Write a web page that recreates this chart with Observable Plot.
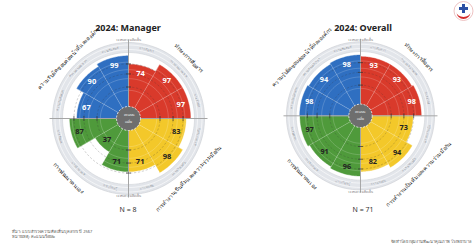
<!DOCTYPE html>
<html><head><meta charset="utf-8">
<script src="https://cdn.jsdelivr.net/npm/d3@7"></script>
<script src="https://cdn.jsdelivr.net/npm/@observablehq/plot@0.6"></script>
<style>
body{margin:0;background:#fff;font-family:"Noto Sans","DejaVu Sans",sans-serif;}
#page{position:relative;width:475px;height:247px;overflow:hidden;background:#fff;}
.chart{position:absolute;top:13px;}
.title{position:absolute;top:22px;width:160px;text-align:center;font-weight:bold;font-size:9px;color:#222;line-height:11px;}
.n{position:absolute;top:205px;width:60px;text-align:center;font-size:7px;color:#333;}
.foot{position:absolute;font-size:4px;color:#555;line-height:5px;white-space:nowrap;}
</style></head><body>
<div id="page"></div>
<script>
// ---- data ----
const items = ["R1","R2","R3","Y1","Y2","Y3","G1","G2","G3","B1","B2","B3"]; // clockwise from 12 o'clock
const groups = ["red","red","red","yellow","yellow","yellow","green","green","green","blue","blue","blue"];
const subLabels = ["การสื่อสาร","การประสานงาน","การรับฟัง","ความร่วมมือ","การช่วยเหลือ","การแบ่งปัน","การเรียนรู้","การฝึกอบรม","การพัฒนา","ความรับผิดชอบ","ความตรงต่อเวลา","ความซื่อสัตย์"];
const managerValues = [74, 97, 97, 83, 98, 71, 71, 37, 87, 67, 90, 99];
const overallValues = [93, 93, 98, 73, 94, 82, 96, 91, 97, 98, 94, 98];
const quadrantNames = ["ทักษะการสื่อสาร","การทำงานเป็นทีมและความร่วมมือกัน","การพัฒนาตนเอง","ความรับผิดชอบต่อหน้าที่และองค์กร"];
const charts = [
  {title:"2024: Manager", n:"N = 8", values: managerValues, cx:128},
  {title:"2024: Overall", n:"N = 71", values: overallValues, cx:363}
];
const palette = {red:"#d93a2b", yellow:"#f3c82a", green:"#4f9a3b", blue:"#2f6fc1"};
const labelInk = {red:"#fff", yellow:"#222", green:"#222", blue:"#fff"};

// ---- geometry helpers ----
const K = 63; // px per unit (outer data radius)
const W = 236, H = 210;
const rs = d3.scaleSqrt().domain([0,100]).range([0,1]);
const band = d3.scaleBand().domain(items).range([0,360]);
const rad = d => d*Math.PI/180;
const pol = (r, th) => ({x: r*Math.sin(rad(th)), y: r*Math.cos(rad(th))});
function circlePts(r, id){ return d3.range(0, 361, 3).map(t => ({...pol(r,t), id})); }
function tangentRot(th){ th = ((th%360)+360)%360; return (th>90 && th<270) ? th-180 : th; }

const page = document.getElementById("page");

for (const c of charts) {
  const wedges = [];
  items.forEach((it, i) => {
    const t0 = band(it), t1 = t0 + band.bandwidth(), r = rs(c.values[i]);
    wedges.push({x:0, y:0, id:it, fill: palette[groups[i]]});
    for (let t = t0; t <= t1 + 1e-9; t += 1) wedges.push({...pol(r,t), id:it, fill: palette[groups[i]]});
  });
  const labels = items.map((it, i) => {
    const th = band(it) + band.bandwidth()/2;
    return {...pol(rs(c.values[i]) - 8/K, th), text: String(c.values[i]), ink: labelInk[groups[i]]};
  });
  const subs = items.map((it, i) => {
    const th = band(it) + band.bandwidth()/2;
    return {...pol(71/K, th), text: subLabels[i], rot: tangentRot(th)};
  });
  const quads = quadrantNames.map((q, i) => {
    const th = 45 + 90*i;
    return {...pol(85/K, th), text: q, rot: tangentRot(th)};
  });
  const gridWhite = [20,40,60,80].flatMap(v => circlePts(rs(v), "g"+v));
  const gridDash = [25,50,75].flatMap(v => circlePts(rs(v), "d"+v));
  const spokes = items.map(it => ({a: pol(0, band(it)), b: pol(1, band(it))}));
  const axes = [{a:pol(79/K,0), b:pol(79/K,180)}, {a:pol(79/K,90), b:pol(79/K,270)}];
  const ticks = [25,50,75].flatMap(v => [0,90,180,270].map(th => {
    const p = pol(rs(v), th), q = pol(2.5/K, th+90);
    return {a:{x:p.x-q.x, y:p.y-q.y}, b:{x:p.x+q.x, y:p.y+q.y}};
  }));
  const axisNotes = [{...pol(78/K,0), text:"ระดับความคิดเห็น"}, {...pol(78/K,180), text:"ระดับความคิดเห็น"}];

  const svg = Plot.plot({
    width: W, height: H, margin: 0,
    x: {domain: [-W/2/K, W/2/K], axis: null},
    y: {domain: [-H/2/K, H/2/K], axis: null},
    color: {type: "identity"},
    style: {fontFamily: "'Noto Sans', 'DejaVu Sans', sans-serif", background: "transparent"},
    marks: [
      Plot.line(circlePts(71/K, "ring"), {x:"x", y:"y", z:"id", stroke:"#e2e5ea", strokeWidth:10}),
      Plot.line(circlePts(76/K, "o1"), {x:"x", y:"y", z:"id", stroke:"#c9ccd1", strokeWidth:0.6}),
      Plot.line(circlePts(66/K, "o2"), {x:"x", y:"y", z:"id", stroke:"#cfd2d6", strokeWidth:0.6}),
      Plot.line(circlePts(69/K, "o3"), {x:"x", y:"y", z:"id", stroke:"#ffffff", strokeWidth:0.6}),
      Plot.line(circlePts(73.5/K, "o4"), {x:"x", y:"y", z:"id", stroke:"#ffffff", strokeWidth:0.6}),
      Plot.line(wedges, {x:"x", y:"y", z:"id", fill:"fill", stroke:"fill", strokeWidth:0.4}),
      Plot.line(gridWhite, {x:"x", y:"y", z:"id", stroke:"#fff", strokeOpacity:0.3, strokeWidth:0.6}),
      Plot.link(spokes, {x1:d=>d.a.x, y1:d=>d.a.y, x2:d=>d.b.x, y2:d=>d.b.y, stroke:"#fff", strokeOpacity:0.35, strokeWidth:0.6}),
      Plot.line(gridDash, {x:"x", y:"y", z:"id", stroke:"#333", strokeOpacity:0.45, strokeWidth:0.5, strokeDasharray:"1.5,2.5"}),
      Plot.link(axes, {x1:d=>d.a.x, y1:d=>d.a.y, x2:d=>d.b.x, y2:d=>d.b.y, stroke:"#a5a5a5", strokeWidth:1}),
      Plot.link(ticks, {x1:d=>d.a.x, y1:d=>d.a.y, x2:d=>d.b.x, y2:d=>d.b.y, stroke:"#333", strokeWidth:0.7}),
      Plot.dot([{x:0,y:0}], {x:"x", y:"y", r:12, fill:"#6e6e6e", stroke:"#fff", strokeWidth:0.8, strokeDasharray:"2,1.5"}),
      Plot.text(["คะแนน","เฉลี่ย"], {x:0, y:(d,i)=> (i? -3.5 : 3.5)/K, text:d=>d, fill:"#eee", fontSize:3.5}),
      Plot.text(labels, {x:"x", y:"y", text:"text", fill:"ink", fontSize:7.5, fontWeight:"bold"}),
      Plot.text(subs, {x:"x", y:"y", text:"text", rotate:"rot", fill:"#8c9096", fontSize:3}),
      Plot.text(axisNotes, {x:"x", y:"y", text:"text", fill:"#777", fontSize:3}),
      Plot.text(quads, {x:"x", y:"y", text:"text", rotate:"rot", fill:"#222", fontSize:5.5})
    ]
  });
  const box = document.createElement("div");
  box.className = "chart";
  box.style.left = (c.cx - W/2) + "px";
  box.appendChild(svg);
  page.appendChild(box);

  const t = document.createElement("div");
  t.className = "title"; t.textContent = c.title; t.style.left = (c.cx - 80) + "px";
  page.appendChild(t);
  const n = document.createElement("div");
  n.className = "n"; n.textContent = c.n; n.style.left = (c.cx - 30) + "px";
  page.appendChild(n);
}

// footnotes
const f1 = document.createElement("div");
f1.className = "foot"; f1.style.left = "12px"; f1.style.top = "229px";
f1.innerHTML = "ที่มา: แบบสำรวจความคิดเห็นบุคลากร ปี 2567<br>หมายเหตุ: คะแนนร้อยละ";
page.appendChild(f1);
const f2 = document.createElement("div");
f2.className = "foot"; f2.style.right = "4px"; f2.style.top = "239px";
f2.textContent = "จัดทำโดย กลุ่มงานพัฒนาคุณภาพ โรงพยาบาล";
page.appendChild(f2);

// logo
const logo = document.createElement("div");
logo.style.cssText = "position:absolute;left:452px;top:0px;width:23px;height:23px;";
logo.innerHTML = '<svg width="23" height="23" viewBox="0 0 23 23"><circle cx="11.5" cy="11" r="9.5" fill="#fff" stroke="#e9b3b3" stroke-width="0.8"/><path d="M4.5 12 A7 7 0 0 0 18.5 12 A7 5 0 0 1 4.5 12Z" fill="#d42a2a"/><rect x="10" y="4" width="3" height="9" fill="#2c4fa3"/><rect x="7" y="7" width="9" height="3" fill="#2c4fa3"/></svg>';
page.appendChild(logo);
</script>
</body></html>
